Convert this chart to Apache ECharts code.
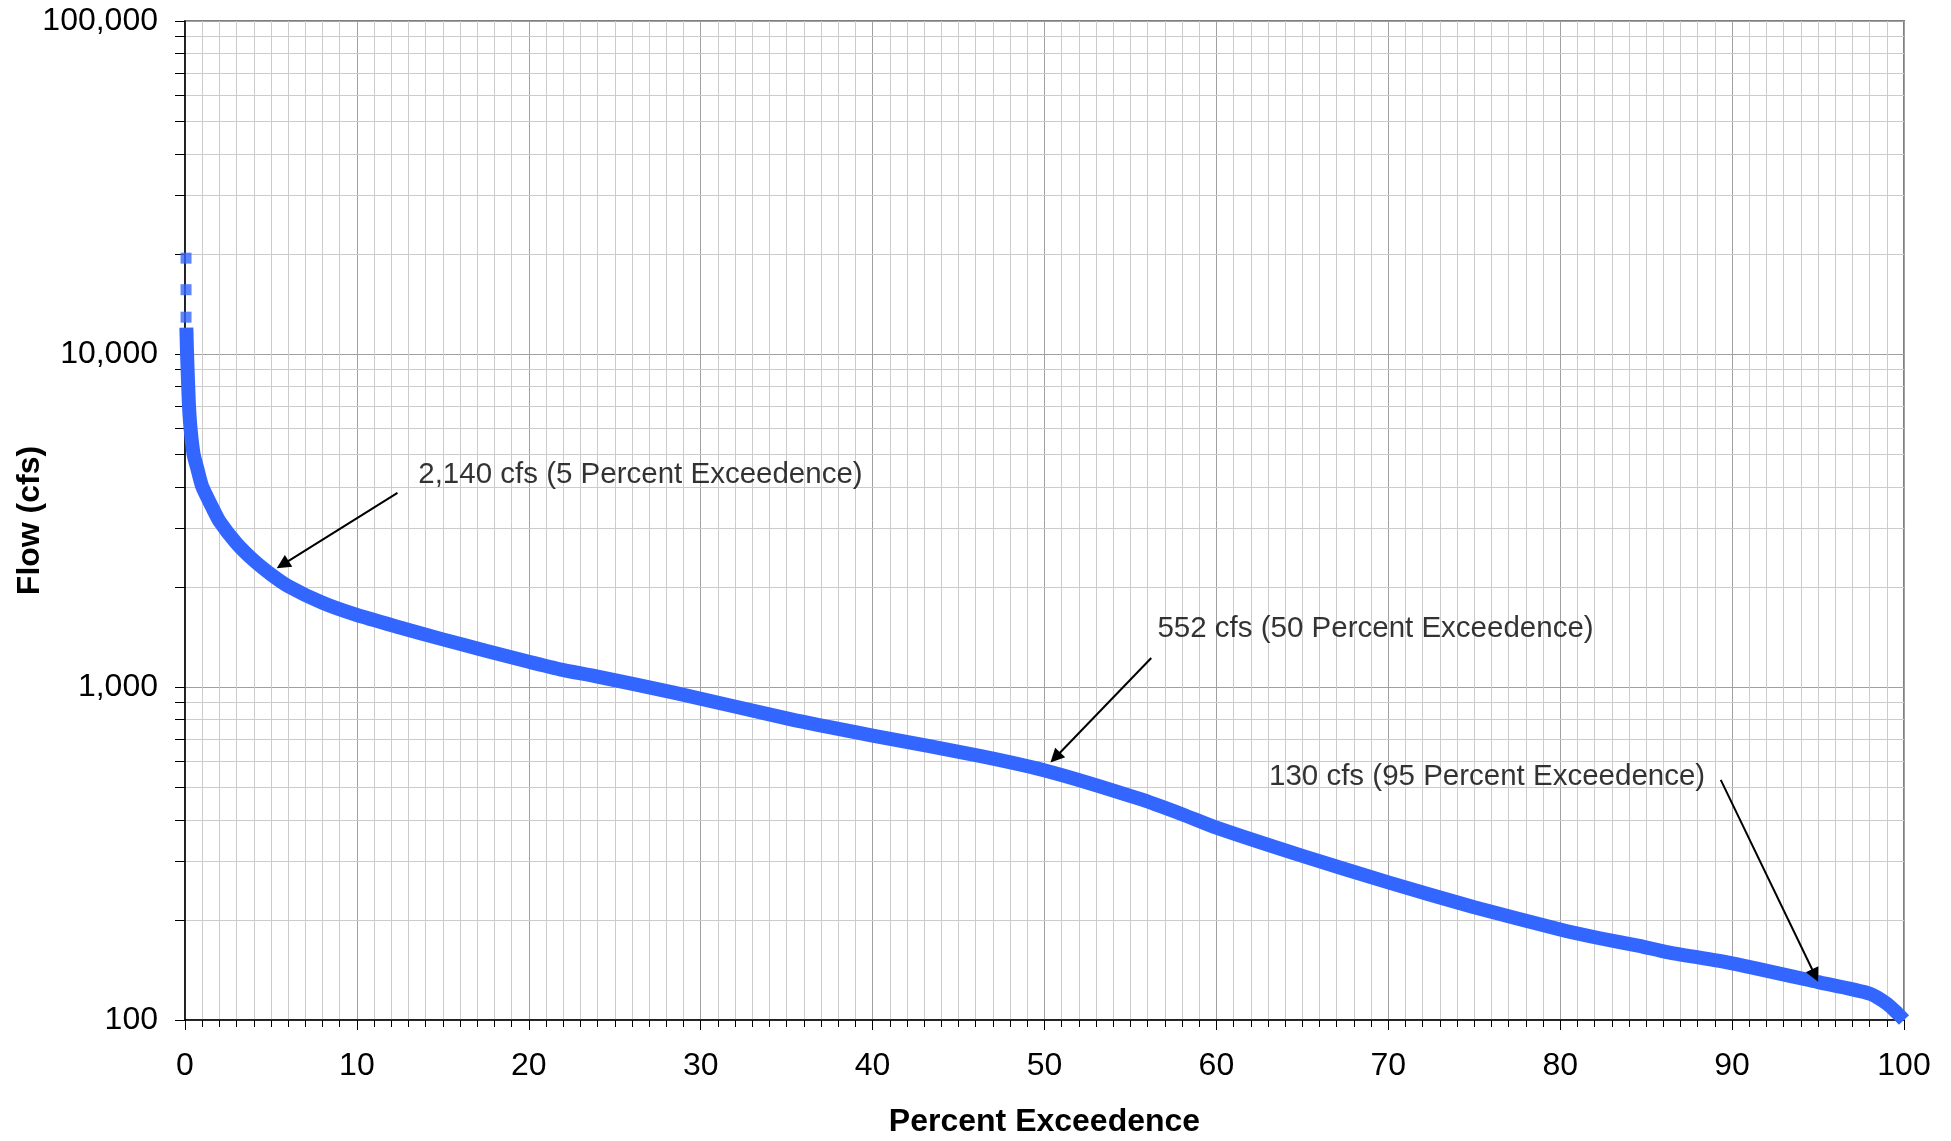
<!DOCTYPE html>
<html>
<head>
<meta charset="utf-8">
<script src="https://cdn.jsdelivr.net/npm/echarts/dist/echarts.min.js"></script>
<style>
html,body{margin:0;padding:0;background:#ffffff;}
#chart{width:1951px;height:1141px;}
</style>
</head>
<body>
<div id="chart"></div>
<script>
// ---- data ----
const percentExceedence = [0.08, 0.12, 0.22, 0.32, 0.5, 0.73, 1.0, 1.6, 2.0, 3.0, 4.0, 5.0, 6.0, 8.0, 10, 12.5, 15, 17.5, 20, 21.8, 24, 28.5, 35.2, 40, 46.3, 50.4, 55.5, 58, 60, 65, 70, 75, 80, 82.3, 84.6, 86.2, 90, 95, 98, 99, 99.6, 100];
const flowCfs = [12000, 10000, 7200, 6000, 5000, 4500, 4000, 3450, 3150, 2700, 2400, 2180, 2010, 1790, 1645, 1510, 1390, 1285, 1190, 1130, 1075, 960, 801, 715, 620, 555, 462, 415, 378, 311, 259, 218, 187, 176, 167, 160, 148, 130, 120, 112, 105, 100];
const peakPercent = [0.06, 0.06, 0.06];
const peakFlow = [19400, 15600, 12900];

const xTickLabels = ['0','10','20','30','40','50','60','70','80','90','100'];
const yTickValues = [100, 1000, 10000, 100000];
const yTickLabels = ['100', '1,000', '10,000', '100,000'];
const yMinorValues = [200,300,400,500,600,700,800,900,2000,3000,4000,5000,6000,7000,8000,9000,20000,30000,40000,50000,60000,70000,80000,90000];

const annotationTexts = ['2,140 cfs (5 Percent Exceedence)', '552 cfs (50 Percent Exceedence)', '130 cfs (95 Percent Exceedence)'];
const annotationTextPercent = [13.57, 56.57, 63.06];
const annotationTextFlow = [4340, 1490, 538];
const arrowTailPercent = [12.36, 56.21, 89.34];
const arrowTailFlow = [3828, 1222, 526];
const arrowHeadPercent = [5.68, 50.63, 94.83];
const arrowHeadFlow = [2331, 614, 136];

const xAxisTitle = 'Percent Exceedence';
const yAxisTitle = 'Flow (cfs)';

// ---- build ----
const FONT = "'Liberation Sans', Arial, Helvetica, sans-serif";
const curveData = percentExceedence.map((p, i) => [p, flowCfs[i]]);
const peakData = peakPercent.map((p, i) => [p, peakFlow[i]]);
const minorData = yMinorValues.map(v => [0, v]);
const annData = annotationTexts.map((t, i) => [annotationTextPercent[i], annotationTextFlow[i], t]);
const arrowData = arrowTailPercent.map((p, i) => [
  {coord: [p, arrowTailFlow[i]]},
  {coord: [arrowHeadPercent[i], arrowHeadFlow[i]]}
]);

const chart = echarts.init(document.getElementById('chart'), null, {renderer: 'canvas'});
chart.setOption({
  animation: false,
  backgroundColor: '#ffffff',
  grid: {
    left: 185, right: 47, top: 21, bottom: 121,
    show: true, borderColor: '#808080', borderWidth: 2,
    containLabel: false, outerBoundsMode: 'none'
  },
  xAxis: {
    type: 'value', min: 0, max: 100, interval: 10,
    name: xAxisTitle, nameLocation: 'middle', nameGap: 86, nameMoveOverlap: false,
    nameTextStyle: {fontFamily: FONT, fontSize: 32, fontWeight: 'bold', color: '#000'},
    axisLine: {show: true, onZero: false, lineStyle: {color: '#000', width: 1.5}},
    axisTick: {show: true, length: 10, lineStyle: {color: '#000', width: 1}},
    minorTick: {show: true, splitNumber: 10, length: 7, lineStyle: {color: '#000', width: 1}},
    axisLabel: {
      fontFamily: FONT, fontSize: 32, color: '#000', margin: 30,
      formatter: v => xTickLabels[Math.round(v / 10)]
    },
    splitLine: {show: true, lineStyle: {color: '#a0a0a0', width: 1}},
    minorSplitLine: {show: true, lineStyle: {color: '#cccccc', width: 1}}
  },
  yAxis: {
    type: 'log', logBase: 10, min: 100, max: 100000,
    name: yAxisTitle, nameLocation: 'middle', nameGap: 139, nameRotate: 90, nameMoveOverlap: false,
    nameTextStyle: {fontFamily: FONT, fontSize: 32, fontWeight: 'bold', color: '#000'},
    axisLine: {show: true, onZero: false, lineStyle: {color: '#000', width: 1.5}},
    axisTick: {show: true, length: 10, lineStyle: {color: '#000', width: 1}},
    axisLabel: {
      fontFamily: FONT, fontSize: 32, color: '#000', margin: 27,
      formatter: v => {
        const i = yTickValues.findIndex(t => Math.abs(t - v) / t < 1e-6);
        return i >= 0 ? yTickLabels[i] : '';
      }
    },
    splitLine: {show: true, lineStyle: {color: '#a0a0a0', width: 1}}
  },
  series: [
    {
      type: 'custom', name: 'minorGrid', silent: true, z: 1, clip: false,
      data: minorData, encode: {x: 0, y: 1},
      renderItem: function (params, api) {
        const p0 = api.coord([0, api.value(1)]);
        const p1 = api.coord([100, api.value(1)]);
        const y = Math.round(p0[1]) + 0.5;
        return {
          type: 'group',
          children: [
            {type: 'line', shape: {x1: p0[0] + 1, y1: y, x2: p1[0], y2: y}, style: {stroke: '#cccccc', lineWidth: 1}},
            {type: 'line', shape: {x1: p0[0] - 10, y1: y, x2: p0[0], y2: y}, style: {stroke: '#000', lineWidth: 1}}
          ]
        };
      }
    },
    {
      type: 'line', name: 'Flow', z: 3,
      data: curveData, showSymbol: false, symbol: 'none',
      smooth: 0.2,
      lineStyle: {color: '#3366ff', width: 14, join: 'round'},
      itemStyle: {color: '#3366ff'},
      silent: true
    },
    {
      type: 'scatter', name: 'Peaks', z: 3,
      data: peakData, symbol: 'rect', symbolSize: 11,
      itemStyle: {color: '#3366ff'}, silent: true
    },
    {
      type: 'scatter', name: 'Annotations', z: 5,
      data: annData, symbolSize: 0, silent: true,
      label: {
        show: true, position: 'right', distance: 0,
        fontFamily: FONT, fontSize: 29.5, color: '#000',
        formatter: p => p.data[2]
      },
      markLine: {
        silent: true, animation: false,
        symbol: ['none', 'triangle'], symbolSize: 14,
        lineStyle: {color: '#000', width: 2, type: 'solid'},
        label: {show: false},
        data: arrowData
      }
    }
  ]
});
</script>
</body>
</html>
